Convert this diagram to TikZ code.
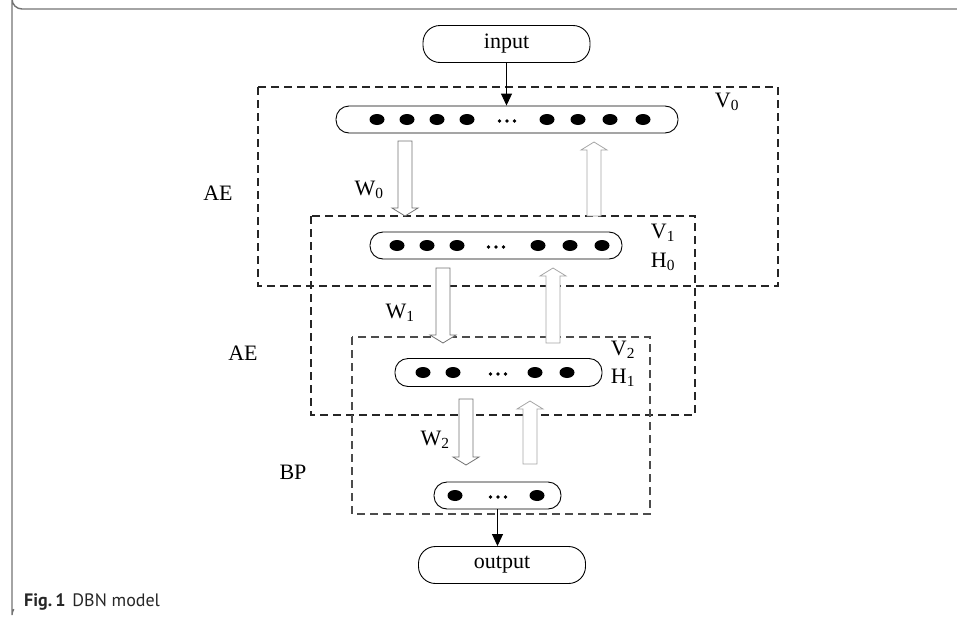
\documentclass[tikz,border=0pt]{standalone}
\usepackage{fontspec}
\setmainfont{Liberation Serif}
\newfontfamily\capfont{PT Sans}
\usetikzlibrary{arrows.meta}
\tikzset{
  lbl/.style={font=\fontsize{22}{26}\selectfont, inner sep=0pt},
  bar/.style={draw=black, line width=0.9pt, rounded corners=13pt, inner sep=0pt, fill=white},
  term/.style={draw=black, line width=0.9pt, rounded corners=17pt, inner sep=0pt, minimum width=167pt, minimum height=37pt, font=\fontsize{22}{26}\selectfont},
  dot/.style={fill=black, draw=none},
  layerbox/.style={draw=black!85, line width=1.3pt, dash pattern=on 8pt off 5pt},
  conn/.style={draw=black, line width=0.9pt, -{Triangle[width=11pt,length=12pt]}},
  dnarr/.style={draw=black!55, line width=0.8pt, fill=white},
  uparr/.style={draw=black!35, line width=0.8pt, fill=white},
  frameline/.style={draw=black!55, line width=1.4pt}
}
\newcommand{\blkdown}[4]{%
  \draw[#4] (#1-7,#2) -- (#1+7,#2) -- (#1+7,#3-8) -- (#1+13,#3-8) -- (#1,#3) -- (#1-13,#3-8) -- (#1-7,#3-8) -- cycle;}
\newcommand{\blkup}[4]{%
  \draw[#4] (#1-7,#3) -- (#1+7,#3) -- (#1+7,#2+8) -- (#1+13,#2+8) -- (#1,#2) -- (#1-13,#2+8) -- (#1-7,#2+8) -- cycle;}
\newcommand{\dotrow}[2]{%
  \foreach \xx in {#2} {\fill[dot] (\xx,#1) ellipse (7.5pt and 5.5pt);}}
\newcommand{\ellip}[2]{%
  \foreach \dd in {-7.5,0,7.5} {\fill (#1+\dd,#2) circle (1.9pt);}}
\begin{document}
\begin{tikzpicture}[x=1pt,y=-1pt]
\useasboundingbox (0,0) rectangle (957,621);
% outer frame (open on right and bottom)
\draw[frameline] (957,9) -- (22,9) arc[start angle=90,end angle=180,radius=10] -- (12,615) arc[start angle=180,end angle=215,radius=10];

% dashed layer boxes
\draw[layerbox] (258,87) rectangle (778,286);
\draw[layerbox] (311,216) rectangle (695,415);
\draw[layerbox, draw=black!70] (352,337) rectangle (650,514);

% terminals
\node[term] (in) at (506.5,44) {input};
\node[term] (out) at (502,565) {output};

% layer bars
\node[bar, minimum width=342pt, minimum height=27pt] (v0) at (507,119.5) {};
\node[bar, minimum width=252pt, minimum height=27pt] (v1) at (496,245.5) {};
\node[bar, minimum width=207pt, minimum height=28pt] (v2) at (498.5,372.5) {};
\node[bar, minimum width=127pt, minimum height=27pt] (ob) at (497.5,495.5) {};

\dotrow{119.5}{377,407,437,467,547,578,610,643}
\ellip{507}{121}
\dotrow{245.5}{397,427,457,538,570,602}
\ellip{496}{247}
\dotrow{372.5}{423,453,535,567}
\ellip{498}{374}
\dotrow{495.5}{455,537}
\ellip{498}{497}

% input / output connectors
\draw[conn] (in.south) -- (in.south |- v0.north);
\draw[conn] (ob.south) -- (ob.south |- out.north);

% block arrows
\blkdown{405}{141}{216}{dnarr}
\blkup{594}{142}{216}{uparr}
\blkdown{443}{268}{343}{dnarr}
\blkup{553}{268}{343}{uparr}
\blkdown{466}{399}{465}{dnarr}
\blkup{530}{401}{464}{uparr}

% labels
\node[lbl] (lv0) at (727,102) {V\textsubscript{0}};
\node[lbl] (lw0) at (369,190) {W\textsubscript{0}};
\node[lbl] (lae1) at (218,193) {AE};
\node[lbl] (lv1) at (663,233) {V\textsubscript{1}};
\node[lbl] (lh0) at (663,262) {H\textsubscript{0}};
\node[lbl] (lw1) at (400,313) {W\textsubscript{1}};
\node[lbl] (lae2) at (243,353) {AE};
\node[lbl] (lv2) at (623,350) {V\textsubscript{2}};
\node[lbl] (lh1) at (623,378) {H\textsubscript{1}};
\node[lbl] (lw2) at (435,440) {W\textsubscript{2}};
\node[lbl] (lbp) at (293,472) {BP};

% caption
\node[anchor=base west, inner sep=0pt, font=\capfont\fontsize{18}{22}\selectfont, text=black!85] (cap) at (24,606) {\textbf{Fig.\,1}\hspace{7pt}DBN model};
\end{tikzpicture}
\end{document}
